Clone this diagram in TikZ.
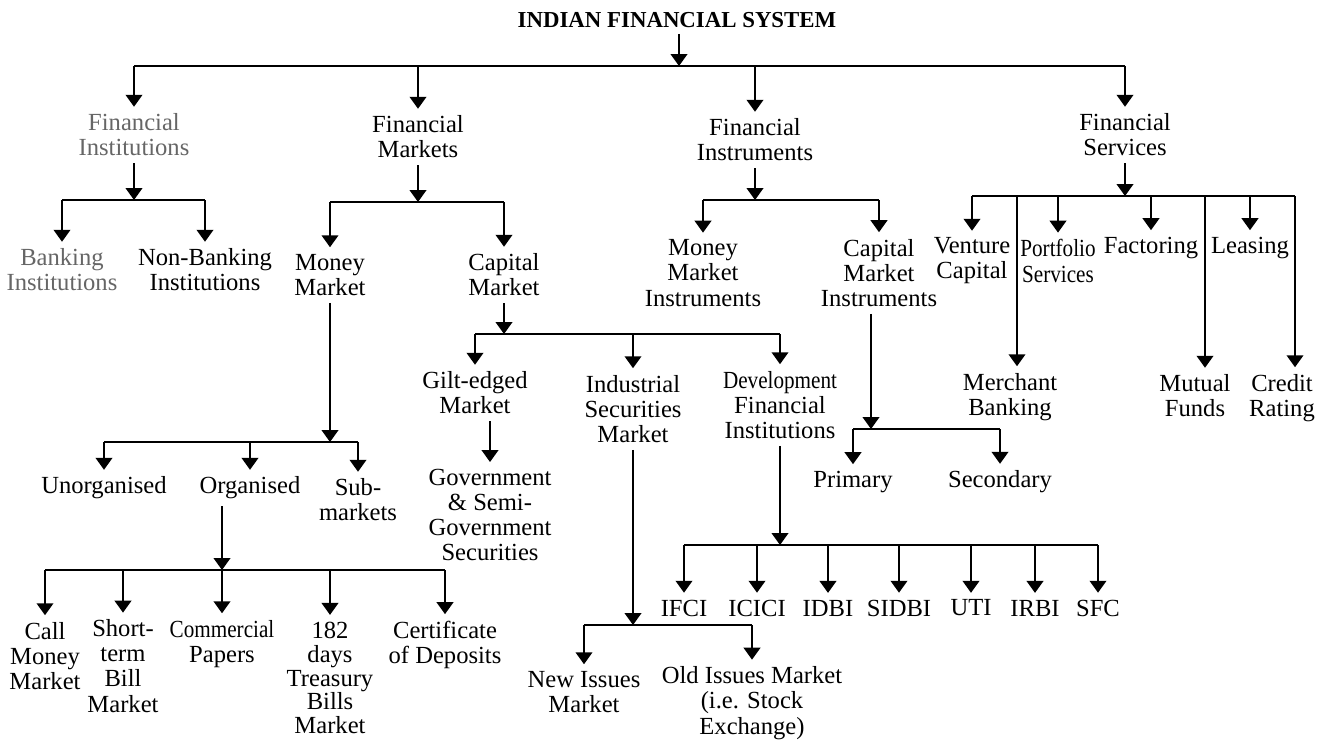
\documentclass[tikz,border=0pt]{standalone}
\usepackage{fontspec}
\setmainfont{Liberation Serif}
\newfontfamily\narrowfont[FakeStretch=0.86]{Liberation Serif}
\usetikzlibrary{arrows.meta}

\tikzset{
  lbl/.style={align=center, inner sep=2pt, outer sep=2pt, font=\fontsize{14}{14.3}\selectfont},
  nlbl/.style={lbl, font=\narrowfont\fontsize{14}{14.3}\selectfont},
  faded/.style={text=black!60},
  arr/.style={-{Triangle[width=9.5pt,length=6.8pt]}, line width=1pt},
  bar/.style={line width=1.2pt},
}

\begin{document}
\begin{tikzpicture}[x=0.02cm,y=-0.02cm]
\useasboundingbox (0,0) rectangle (1341,740);

\node[font=\bfseries\fontsize{13}{15}\selectfont] (ifs) at (677,20) {INDIAN FINANCIAL SYSTEM};
\coordinate (top) at (679,66);

\node[lbl,faded] (fi) at (134,135) {Financial\\Institutions};
\node[lbl] (fm) at (418,137) {Financial\\Markets};
\node[lbl] (fin) at (755,140) {Financial\\Instruments};
\node[lbl] (fs) at (1125,135) {Financial\\Services};

\draw[arr] (ifs.south -| top) -- (top);
\draw[bar] (top -| fi) -- (top -| fs);
\draw[arr] (top -| fi) -- (fi);
\draw[arr] (top -| fm) -- (fm);
\draw[arr] (top -| fin) -- (fin);
\draw[arr] (top -| fs) -- (fs);

\coordinate (fib) at (137,200);
\node[lbl,faded] (bi) at (62,270) {Banking\\Institutions};
\node[lbl] (nbi) at (205,270) {Non-Banking\\Institutions};
\draw[arr] (fi) -- (fi |- fib);
\draw[bar] (fib -| bi) -- (fib -| nbi);
\draw[arr] (fib -| bi) -- (bi);
\draw[arr] (fib -| nbi) -- (nbi);

\coordinate (fmb) at (420,202);
\node[lbl] (mm) at (330,275) {Money\\Market};
\node[lbl] (cm) at (504,275) {Capital\\Market};
\draw[arr] (fm) -- (fm |- fmb);
\draw[bar] (fmb -| mm) -- (fmb -| cm);
\draw[arr] (fmb -| mm) -- (mm);
\draw[arr] (fmb -| cm) -- (cm);

\coordinate (mmb) at (325,442);
\node[lbl] (un) at (104,488) {Unorganised};
\node[lbl] (org) at (250,488) {Organised};
\node[lbl] (sub) at (358,500) {Sub-\\markets};
\draw[arr] (mm) -- (mm |- mmb);
\draw[bar] (mmb -| un) -- (mmb -| sub);
\draw[arr] (mmb -| un) -- (un);
\draw[arr] (mmb -| org) -- (org);
\draw[arr] (mmb -| sub) -- (sub);

\coordinate (orgb) at (222,570);
\node[lbl] (cmm) at (45,656) {Call\\Money\\Market};
\node[lbl] (stb) at (123,666) {Short-\\term\\Bill\\Market};
\node[lbl] (cp) at (222,644) {{\narrowfont Commercial}\\Papers};
\node[lbl,font=\fontsize{14}{13.6}\selectfont] (tb) at (330,678) {182\\days\\Treasury\\Bills\\Market};
\node[lbl] (cd) at (445,645) {Certificate\\of Deposits};
\draw[arr] (orgb |- org.south) -- (orgb);
\draw[bar] (orgb -| cmm) -- (orgb -| cd);
\draw[arr] (orgb -| cmm) -- (cmm);
\draw[arr] (orgb -| stb) -- (stb);
\draw[arr] (orgb -| cp) -- (cp);
\draw[arr] (orgb -| tb) -- (tb);
\draw[arr] (orgb -| cd) -- (cd);

\coordinate (cmb) at (505,334);
\node[lbl] (ge) at (475,393) {Gilt-edged\\Market};
\node[lbl] (is) at (633,409) {Industrial\\Securities\\Market};
\node[lbl] (dfi) at (780,405) {{\narrowfont Development}\\Financial\\Institutions};
\draw[arr] (cm) -- (cm |- cmb);
\draw[bar] (cmb -| ge) -- (cmb -| dfi);
\draw[arr] (cmb -| ge) -- (ge);
\draw[arr] (cmb -| is) -- (is);
\draw[arr] (cmb -| dfi) -- (dfi);

\node[lbl] (gov) at (490,515) {Government\\\& Semi-\\Government\\Securities};
\draw[arr] (ge.south -| gov) -- (gov);

\coordinate (isb) at (635,625);
\node[lbl] (ni) at (584,692) {New Issues\\Market};
\node[lbl] (oi) at (752,703) {Old Issues Market\\(i.e. Stock\\Exchange)};
\draw[arr] (is) -- (is |- isb);
\draw[bar] (isb -| ni) -- (isb -| oi);
\draw[arr] (isb -| ni) -- (ni);
\draw[arr] (isb -| oi) -- (oi);

\coordinate (dfib) at (775,545);
\node[lbl] (ifci) at (684,608) {IFCI};
\node[lbl] (icici) at (757,608) {ICICI};
\node[lbl] (idbi) at (828,608) {IDBI};
\node[lbl] (sidbi) at (899,608) {SIDBI};
\node[lbl] (uti) at (971,608) {UTI};
\node[lbl] (irbi) at (1035,608) {IRBI};
\node[lbl] (sfc) at (1098,608) {SFC};
\draw[arr] (dfi) -- (dfi |- dfib);
\draw[bar] (dfib -| ifci) -- (dfib -| sfc);
\foreach \n in {ifci,icici,idbi,sidbi,uti,irbi,sfc}
  \draw[arr] (dfib -| \n) -- (\n);

\coordinate (finb) at (760,200);
\node[lbl] (mmi) at (703,273) {Money\\Market\\Instruments};
\node[lbl] (cmi) at (879,273) {Capital\\Market\\Instruments};
\draw[arr] (fin) -- (fin |- finb);
\draw[bar] (finb -| mmi) -- (finb -| cmi);
\draw[arr] (finb -| mmi) -- (mmi);
\draw[arr] (finb -| cmi) -- (cmi);

\coordinate (cmib) at (871,429);
\node[lbl] (pr) at (853,482) {Primary};
\node[lbl] (sec) at (1000,482) {Secondary};
\draw[arr] (cmi.south -| cmib) -- (cmib);
\draw[bar] (cmib -| pr) -- (cmib -| sec);
\draw[arr] (cmib -| pr) -- (pr);
\draw[arr] (cmib -| sec) -- (sec);

\coordinate (fsb) at (1125,196);
\coordinate (mbx) at (1017,196);
\coordinate (mfx) at (1205,196);
\coordinate (crx) at (1295,196);
\node[lbl] (vc) at (972,261) {Venture\\Capital};
\node[nlbl] (ps) at (1058,261) {Portfolio\\Services};
\node[lbl] (fa) at (1151,248) {Factoring};
\node[lbl] (le) at (1250,248) {Leasing};
\node[lbl] (mb) at (1010,397) {Merchant\\Banking};
\node[lbl] (mf) at (1195,396) {Mutual\\Funds};
\node[lbl] (cr) at (1282,398) {Credit\\Rating};
\draw[arr] (fs) -- (fs |- fsb);
\draw[bar] (fsb -| vc) -- (crx);
\draw[arr] (fsb -| vc) -- (vc);
\draw[arr] (fsb -| ps) -- (ps);
\draw[arr] (fsb -| fa) -- (fa);
\draw[arr] (fsb -| le) -- (le);
\draw[arr] (mbx) -- (mbx |- mb.north);
\draw[arr] (mfx) -- (mfx |- mf.north);
\draw[arr] (crx) -- (crx |- cr.north);
\end{tikzpicture}
\end{document}
